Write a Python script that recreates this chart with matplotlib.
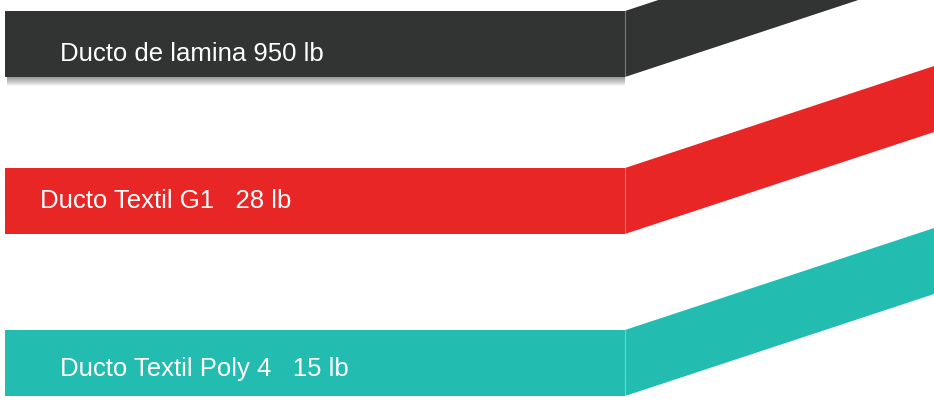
import matplotlib
matplotlib.use("Agg")
import matplotlib.pyplot as plt
from matplotlib.patches import Polygon, Rectangle

# Donnees
nombres = ["Ducto de lamina", "Ducto Textil G1", "Ducto Textil Poly 4"]
pesos = [950, 28, 15]
separadores = [" ", "   ", "   "]
colores = ["#323333", "#E82626", "#22BCB1"]

# Mise en page (pixels)
W, H = 934, 405
x0, x1 = 5, 625
altos = [11, 168, 330]
grosor = 66
pente = 0.33
texto_x = [60, 40, 60]
texto_y = [61, 208, 376]   # ligne de base

fig = plt.figure(figsize=(W / 100, H / 100), dpi=100)
ax = fig.add_axes([0, 0, 1, 1])
ax.set_xlim(0, W)
ax.set_ylim(H, 0)
ax.axis("off")

# ombre sous la bande sombre
for k in range(9):
    ax.add_patch(Rectangle((x0 + 2, altos[0] + grosor + k - 1), x1 - x0 - 2, 1.5,
                           color="#555555", alpha=0.38 * (1 - k / 9), lw=0))

for i in range(len(nombres)):
    top = altos[i]
    bot = top + grosor
    c = colores[i]
    ax.add_patch(Rectangle((x0, top), x1 - x0, grosor, color=c, lw=0))
    dy = (W - x1) * pente
    ax.add_patch(Polygon([(x1, top), (x1, bot), (W, bot - dy), (W, top - dy)],
                         closed=True, color=c, lw=0))
    ax.plot([x1, x1], [top, bot], color="white", alpha=0.35, lw=0.8)
    etiqueta = nombres[i] + separadores[i] + str(pesos[i]) + " lb"
    ax.text(texto_x[i], texto_y[i], etiqueta, color="white",
            fontsize=18.5, va="baseline", ha="left",
            family=["Liberation Sans", "DejaVu Sans"])

fig.savefig("out.png", dpi=100)
